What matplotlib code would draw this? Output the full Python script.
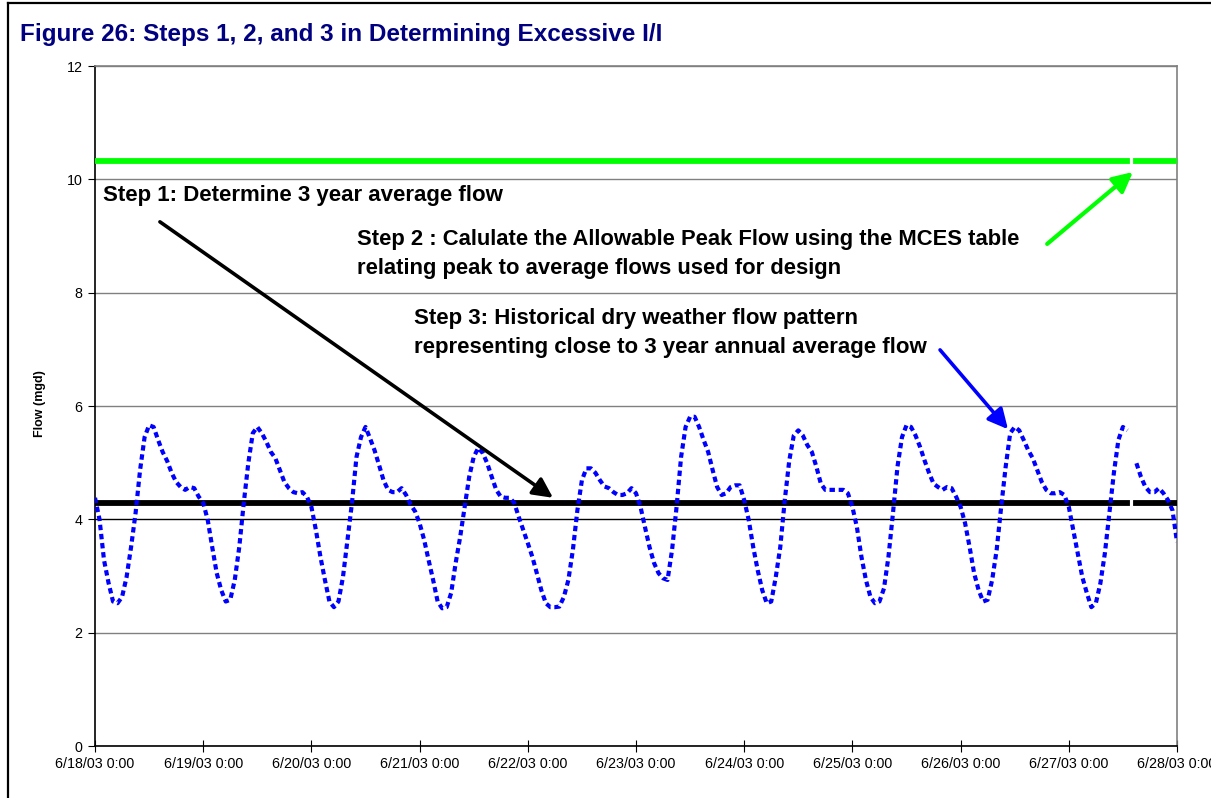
import numpy as np
import pandas as pd
import matplotlib
matplotlib.use("Agg")
import matplotlib.pyplot as plt
import matplotlib.dates as mdates
from matplotlib.ticker import FuncFormatter
from matplotlib.lines import Line2D

plt.rcParams['font.family'] = ['Liberation Sans', 'DejaVu Sans']

# hourly dry weather flow (mgd), one list per day starting at 0:00
d0618 = [4.38, 4.0, 3.28, 2.88, 2.55, 2.52, 2.63, 2.98, 3.51, 4.11, 4.87, 5.45, 5.66, 5.63, 5.4, 5.19, 5.03, 4.82, 4.66, 4.57, 4.52, 4.57, 4.55, 4.4]
d0619 = [4.29, 3.99, 3.51, 3.05, 2.75, 2.55, 2.58, 2.93, 3.51, 4.29, 4.99, 5.52, 5.63, 5.52, 5.37, 5.19, 5.08, 4.87, 4.66, 4.55, 4.48, 4.46, 4.48, 4.4]
d0620 = [4.22, 3.81, 3.34, 2.93, 2.55, 2.45, 2.55, 2.98, 3.64, 4.29, 5.1, 5.45, 5.63, 5.43, 5.22, 4.96, 4.69, 4.52, 4.48, 4.48, 4.55, 4.43, 4.26, 4.14]
d0621 = [3.93, 3.64, 3.28, 2.93, 2.55, 2.43, 2.45, 2.7, 3.23, 3.69, 4.22, 4.75, 5.1, 5.26, 5.17, 4.99, 4.75, 4.52, 4.4, 4.38, 4.38, 4.29, 4.04, 3.81]
d0622 = [3.58, 3.34, 3.05, 2.75, 2.52, 2.45, 2.45, 2.46, 2.63, 2.93, 3.46, 4.16, 4.69, 4.9, 4.9, 4.82, 4.69, 4.58, 4.55, 4.48, 4.43, 4.43, 4.46, 4.55]
d0623 = [4.46, 4.22, 3.86, 3.51, 3.23, 3.05, 2.96, 2.93, 3.46, 4.22, 5.1, 5.63, 5.81, 5.81, 5.63, 5.4, 5.19, 4.87, 4.57, 4.43, 4.46, 4.57, 4.6, 4.6]
d0624 = [4.34, 3.99, 3.51, 3.1, 2.75, 2.52, 2.55, 2.98, 3.51, 4.34, 5.04, 5.48, 5.57, 5.48, 5.31, 5.19, 4.93, 4.63, 4.52, 4.52, 4.52, 4.52, 4.52, 4.46]
d0625 = [4.22, 3.86, 3.34, 2.93, 2.63, 2.52, 2.55, 2.78, 3.34, 4.11, 4.93, 5.45, 5.66, 5.63, 5.48, 5.28, 5.04, 4.82, 4.63, 4.57, 4.52, 4.57, 4.55, 4.4]
d0626 = [4.22, 3.93, 3.51, 3.05, 2.75, 2.55, 2.58, 2.93, 3.46, 4.22, 4.93, 5.52, 5.63, 5.57, 5.4, 5.22, 5.08, 4.87, 4.66, 4.52, 4.46, 4.46, 4.48, 4.43]
d0627 = [4.22, 3.81, 3.4, 2.98, 2.7, 2.45, 2.52, 2.87, 3.4, 4.11, 4.82, 5.4, 5.63, 5.57, np.nan, 4.99, 4.75, 4.57, 4.48, 4.48, 4.55, 4.46, 4.34, 4.16]
d0628 = [3.6]

avg_flow = 4.29        # step 1: 3 year average flow
allowable_peak = 10.33  # step 2: allowable peak flow

yticks = [0, 2, 4, 6, 8, 10, 12]

flow = np.array(d0618 + d0619 + d0620 + d0621 + d0622 + d0623 + d0624 + d0625 + d0626 + d0627 + d0628)
times = pd.date_range("2003-06-18 00:00", periods=len(flow), freq="h")
missing = np.isnan(flow)
avg_line = np.where(missing, np.nan, avg_flow)
peak_line = np.where(missing, np.nan, allowable_peak)

fig = plt.figure(figsize=(12.11, 7.98), dpi=100)
ax = fig.add_axes([95 / 1211, 1 - 746 / 798, (1177 - 95) / 1211, (746 - 66) / 798])

ax.plot(times, peak_line, color='#00FF00', lw=4.2, solid_capstyle='projecting', zorder=3)
ax.plot(times, avg_line, color='black', lw=4.2, solid_capstyle='projecting', zorder=3)
ax.plot(times, flow, color='#0000FF', lw=3.0, linestyle=(0, (1.3, 0.9)),
        dash_capstyle='butt', zorder=4)

ax.set_ylim(0, 12)
ax.set_xlim(times[0], times[-1])
ax.set_yticks(yticks)
ax.xaxis.set_major_locator(mdates.DayLocator())
ax.xaxis.set_major_formatter(FuncFormatter(
    lambda v, p: (lambda d: f"{d.month}/{d.day}/{d:%y} {d.hour}:{d:%M}")(mdates.num2date(v))))

ax.yaxis.grid(True, color='#808080', lw=1)
for val, gl in zip(yticks, ax.get_ygridlines()):
    if val == 4:
        gl.set_color('black')
ax.set_axisbelow(True)

ax.tick_params(axis='x', direction='inout', length=8, labelsize=10.3, pad=4)
ax.tick_params(axis='y', direction='out', length=5, labelsize=10.3, pad=4)
for s in ['top', 'right']:
    ax.spines[s].set_color('#808080')
for s in ['left', 'bottom']:
    ax.spines[s].set_color('black')
for s in ax.spines.values():
    s.set_linewidth(1.2)

fig.text(40 / 1211, 1 - 404 / 798, 'Flow (mgd)', rotation=90, ha='center', va='center',
         fontsize=9, fontweight='bold')

fig.text(20 / 1211, 1 - 35 / 798, 'Figure 26: Steps 1, 2, and 3 in Determining Excessive I/I',
         ha='left', va='center', fontsize=17.5, fontweight='bold', color='#000080')

t0 = times[0]
def at(days):
    return t0 + pd.Timedelta(days=days)

ax.text(at(0.075), 9.72, 'Step 1: Determine 3 year average flow', fontsize=16, fontweight='bold', va='center')
ax.text(at(2.425), 8.93, 'Step 2 : Calulate the Allowable Peak Flow using the MCES table',
        fontsize=15.8, fontweight='bold', va='center')
ax.text(at(2.425), 8.42, 'relating peak to average flows used for design',
        fontsize=15.8, fontweight='bold', va='center')
ax.text(at(2.948), 7.55, 'Step 3: Historical dry weather flow pattern', fontsize=16, fontweight='bold', va='center')
ax.text(at(2.948), 7.04, 'representing close to 3 year annual average flow', fontsize=16, fontweight='bold', va='center')

ax.annotate('', xy=(at(4.233), 4.38), xytext=(at(0.60), 9.25),
            arrowprops=dict(arrowstyle='-|>', color='black', lw=2.6, mutation_scale=30,
                            shrinkA=0, shrinkB=0), zorder=5)
ax.annotate('', xy=(at(9.593), 10.13), xytext=(at(8.80), 8.86),
            arrowprops=dict(arrowstyle='-|>', color='#00FF00', lw=3.0, mutation_scale=30,
                            shrinkA=0, shrinkB=0), zorder=5)
ax.annotate('', xy=(at(8.438), 5.59), xytext=(at(7.81), 6.99),
            arrowprops=dict(arrowstyle='-|>', color='#0000FF', lw=2.6, mutation_scale=30,
                            shrinkA=0, shrinkB=0), zorder=5)

# outer frame (only top and left edges fall inside the picture)
fig.add_artist(Line2D([8 / 1211, 1.0], [1 - 3 / 798, 1 - 3 / 798], color='black', lw=1.6))
fig.add_artist(Line2D([8 / 1211, 8 / 1211], [0.0, 1 - 3 / 798], color='black', lw=1.6))

fig.savefig('out.png', dpi=100)
